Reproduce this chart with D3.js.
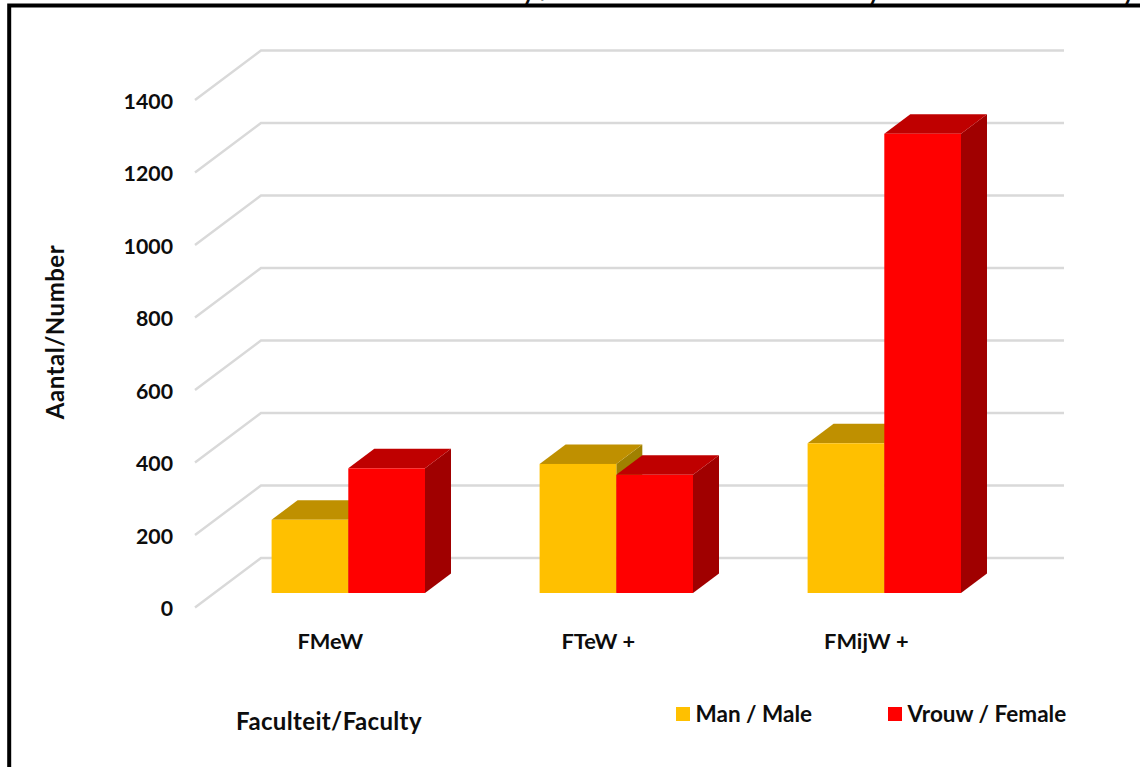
<!DOCTYPE html>
<html>
<head>
<meta charset="utf-8">
<script src="https://cdn.jsdelivr.net/npm/d3@7"></script>
<style>
html,body{margin:0;padding:0;background:#fff;overflow:hidden}
svg{display:block}
text{font-family:Lato,"Open Sans",sans-serif;font-weight:700;fill:#0d0d0d}
</style>
</head>
<body>
<svg id="c" width="1140" height="767"></svg>
<script>
const categories = ["FMeW", "FTeW +", "FMijW +"];
const seriesNames = ["Man / Male", "Vrouw / Female"];
const maleValues = [202, 356, 413];
const femaleValues = [344, 326, 1267];
const yTicks = [0, 200, 400, 600, 800, 1000, 1200, 1400];
const titleText = "Aantal Studenten Man en Vrouw Per Faculty / Total Man and Women Faculty and Students of Faculty and";
const xAxisTitle = "Faculteit/Faculty";
const yAxisTitle = "Aantal/Number";

const faces = [
  {front:"#FFC000", top:"#BF9000", side:"#A08000"},
  {front:"#FF0000", top:"#BF0000", side:"#A00000"}
];

const svg = d3.select("#c");
const unit = 72.5 / 200;
const yFront = d3.scaleLinear().domain([0, 1400]).range([607.5, 607.5 - 1400 * unit]);
const yBack = d3.scaleLinear().domain([0, 1400]).range([558, 558 - 1400 * unit]);
const yBar = d3.scaleLinear().domain([0, 1400]).range([593, 593 - 1400 * unit]);
const xGroup = d3.scaleBand().domain(categories).range([214.3, 1018.3]);
const xSeries = d3.scaleBand().domain([0, 1]).range([-76.7, 76.7]);
const depth = {dx: 26, dy: -19.5};

// clipped title above the frame
svg.append("text").attr("x", 65).attr("y", 0).attr("font-size", 24).text(titleText);

// frame
svg.append("path").attr("d", "M9.2,767V5.5H1140").attr("fill", "none")
   .attr("stroke", "#000").attr("stroke-width", 4);

// gridlines: floor/wall
const grid = svg.append("g").attr("fill", "none").attr("stroke", "#d9d9d9").attr("stroke-width", 2.4);
grid.selectAll("path").data(yTicks).join("path")
  .attr("d", v => d3.line()([[195, yFront(v)], [261, yBack(v)], [1064, yBack(v)]]));

// y axis
const yAxis = svg.append("g").attr("transform", "translate(173,1)")
  .call(d3.axisLeft(yFront).tickValues(yTicks).tickSize(0).tickPadding(0).tickFormat(d3.format("d")));
yAxis.select(".domain").remove();
yAxis.selectAll("text").attr("font-size", 21.3).attr("dy", "0.34em");
yAxis.attr("font-family", null).attr("font-size", null);

// x axis labels
const xAxis = svg.append("g").attr("transform", "translate(-18,629)")
  .call(d3.axisBottom(xGroup).tickSize(0).tickPadding(0));
xAxis.select(".domain").remove();
xAxis.selectAll("text").attr("font-size", 21.8).attr("dy", "0.9em");
xAxis.attr("font-family", null).attr("font-size", null);

// 3D bars
const rows = categories.flatMap((c, i) => [
  {cat: c, s: 0, v: maleValues[i]},
  {cat: c, s: 1, v: femaleValues[i]}
]);
const bars = svg.selectAll("g.bar").data(rows).join("g").attr("class", "bar");
const geom = d => {
  const x0 = xGroup(d.cat) + xGroup.bandwidth() / 2 + xSeries(d.s);
  return {x0, x1: x0 + xSeries.bandwidth(), top: yBar(d.v), base: yBar(0)};
};
bars.append("path").attr("fill", d => faces[d.s].side).attr("d", d => {
  const g = geom(d);
  return d3.line()([[g.x1, g.top], [g.x1 + depth.dx, g.top + depth.dy], [g.x1 + depth.dx, g.base + depth.dy], [g.x1, g.base]]) + "Z";
});
bars.append("path").attr("fill", d => faces[d.s].top).attr("d", d => {
  const g = geom(d);
  return d3.line()([[g.x0, g.top], [g.x0 + depth.dx, g.top + depth.dy], [g.x1 + depth.dx, g.top + depth.dy], [g.x1, g.top]]) + "Z";
});
bars.append("rect").attr("fill", d => faces[d.s].front)
  .attr("x", d => geom(d).x0).attr("y", d => geom(d).top)
  .attr("width", xSeries.bandwidth()).attr("height", d => geom(d).base - geom(d).top);

// axis titles
svg.append("text").attr("transform", "translate(64,332) rotate(-90)").attr("text-anchor", "middle")
   .attr("font-size", 24).attr("letter-spacing", 0.5).text(yAxisTitle);
svg.append("text").attr("x", 329).attr("y", 730).attr("text-anchor", "middle")
   .attr("font-size", 24).attr("letter-spacing", 0.35).text(xAxisTitle);

// legend
const legendX = d3.scaleOrdinal().domain(seriesNames).range([676, 888]);
const lg = svg.selectAll("g.lg").data(seriesNames).join("g").attr("class", "lg")
  .attr("transform", d => `translate(${legendX(d)},707)`);
lg.append("rect").attr("width", 14).attr("height", 14).attr("fill", (d, i) => faces[i].front);
lg.append("text").attr("x", 19.5).attr("y", 15).attr("font-size", 22.5).text(d => d);
</script>
</body>
</html>
